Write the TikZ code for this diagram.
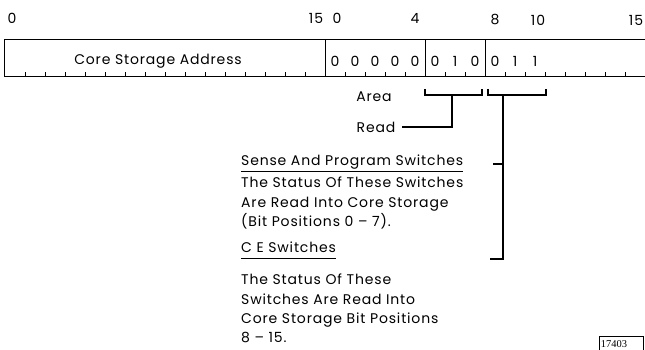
\documentclass[tikz,border=0pt]{standalone}
\usepackage{fontspec}
\setmainfont{Poppins}[LetterSpace=6]
\newfontfamily\plateserif{Liberation Serif}
\usetikzlibrary{positioning}

\begin{document}
\begin{tikzpicture}[x=1pt, y=-1pt,
  every node/.style={font=\fontsize{14}{19.3}\selectfont, inner sep=0pt},
  word/.style={line width=1pt},
  brace/.style={line width=1.3pt},
  body/.style={anchor=north west, align=left}]
\useasboundingbox (0,0) rectangle (645,350);
% the two words
\draw[word] (4,40) rectangle (325,77);
\draw[word] (325,40) -- (645,40) (325,77) -- (645,77);
\draw[word] (425,40) -- (425,77) (485,40) -- (485,77);
\foreach \i in {1,...,15} \draw[word] (5+20*\i,77) -- ++(0,-5);
\foreach \i in {1,2,3,4,6,7,9,10,11,12,13,14,15} \draw[word] (325+20*\i,77) -- ++(0,-5);
\node (csa) at (158,61) {Core Storage Address};
\foreach \b/\v in {0/0,1/0,2/0,3/0,4/0,5/0,6/1,7/0,8/0,9/1,10/1}
  \node (bit\b) at (335+20*\b,61) {\v};
% bit numbers
\node (lzero) at (12,18) {0};
\node (lfifteen) at (316,18) {15};
\node (rzero) at (337,18) {0};
\node (rfour) at (415,18) {4};
\node (reight) at (495,20) {8};
\node (rten) at (538,20) {10};
\node (rfifteen) at (636,20) {15};
% brackets
\draw[brace] (425,89) -- (425,95) -- (482,95) -- (482,89);
\draw[brace] (488,89) -- (488,95) -- (546,95) -- (546,89);
\coordinate (areabr) at (452,95);
\coordinate (cebr) at (503,95);
\node (area) at (374,97) {Area};
\node (read) at (376,127) {Read};
\draw[brace] (areabr) |- ([xshift=6pt]read.east);
% switch notes
\node[anchor=base west] (sense) at (241,165) {Sense And Program Switches};
\draw[word] ([yshift=-6pt]sense.base west) -- ([yshift=-6pt]sense.base east);
\node[body] (sensetxt) at (241,177) {The Status Of These Switches\\Are Read Into Core Storage\\(Bit Positions 0 -- 7).};
\node[anchor=base west] (ce) at (241,252) {C E Switches};
\draw[word] ([yshift=-6pt]ce.base west) -- ([yshift=-6pt]ce.base east);
\node[body] (cetxt) at (241,274) {The Status Of These\\Switches Are Read Into\\Core Storage Bit Positions\\8 -- 15.};
\coordinate (sensetick) at (493,164);
\coordinate (cetick) at (490,259);
\draw[brace] (cebr) -- (cebr |- cetick) -- (cetick);
\draw[brace] (sensetick) -- (sensetick -| cebr);
% plate number
\node[font=\plateserif\fontsize{10.5}{12}\selectfont] (plate) at (614,344) {17403};
\draw[line width=0.6pt] (599,350) |- (643,336) -- (643,350);
\end{tikzpicture}
\end{document}
